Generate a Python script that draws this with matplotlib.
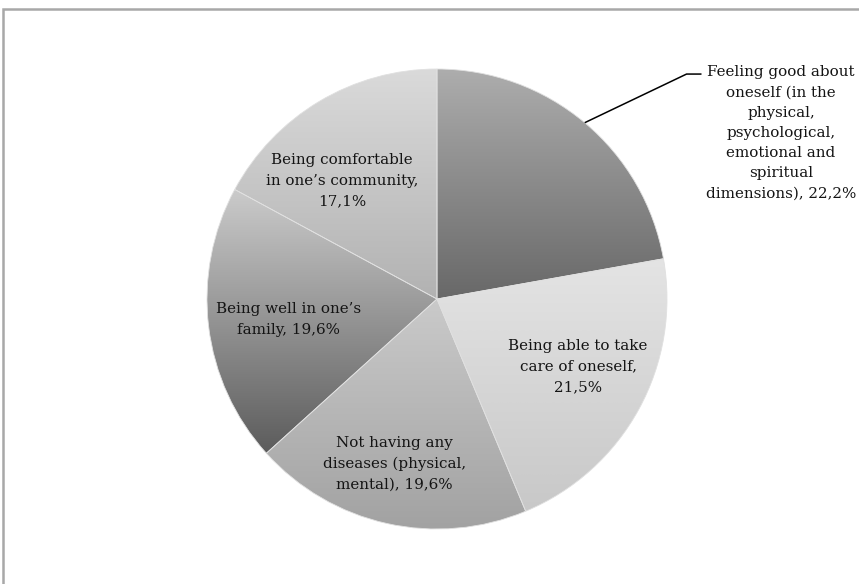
import numpy as np
import matplotlib
matplotlib.use('Agg')
from matplotlib import pyplot as plt
from matplotlib.patches import Rectangle

# data
labels = ['Feeling good about\noneself (in the\nphysical,\npsychological,\nemotional and\nspiritual\ndimensions), 22,2%',
          'Being able to take\ncare of oneself,\n21,5%',
          'Not having any\ndiseases (physical,\nmental), 19,6%',
          'Being well in one\u2019s\nfamily, 19,6%',
          'Being comfortable\nin one\u2019s community,\n17,1%']
values = [22.2, 21.5, 19.6, 19.6, 17.1]

# gradient top/bottom grey per slice
top_cols = ['#adadad', '#e4e4e4', '#cacaca', '#cbcbcb', '#dadada']
bot_cols = ['#686868', '#c8c8c8', '#a2a2a2', '#5c5c5c', '#b2b2b2']
label_r = [None, 0.68, 0.74, 0.65, 0.66]
label_dang = [0, 3, -2, 1, 8]

W, H = 859, 584
cx, cy, R = 437, 299, 230

fig = plt.figure(figsize=(W/100, H/100), dpi=100)
ax = fig.add_axes([0, 0, 1, 1])
wedges, _ = ax.pie(values, startangle=90, counterclock=False,
                   colors=['none']*5, wedgeprops=dict(edgecolor='#e0e0e0', linewidth=0.6))
ax.set_aspect('auto')
ax.set_xlim(-cx/R, (W-cx)/R)
ax.set_ylim(-(H-cy)/R, cy/R)
ax.axis('off')

def hex2rgb(h):
    return np.array([int(h[i:i+2], 16) for i in (1, 3, 5)]) / 255.0

for w, tc, bc in zip(wedges, top_cols, bot_cols):
    ext = w.get_path().get_extents(w.get_patch_transform())
    t = np.linspace(0, 1, 256)[:, None]
    grad = hex2rgb(tc)[None, :] * (1 - t) + hex2rgb(bc)[None, :] * t
    img = np.repeat(grad[:, None, :], 2, axis=1)
    im = ax.imshow(img, extent=[ext.x0, ext.x1, ext.y0, ext.y1], origin='upper',
                   aspect='auto', zorder=0.5, interpolation='bilinear')
    im.set_clip_path(w)
    w.set_zorder(1)

font = dict(family='DejaVu Serif', size=10.9, color='#141414', linespacing=1.57)

for i, w in enumerate(wedges):
    if label_r[i] is None:
        continue
    ang = np.deg2rad((w.theta1 + w.theta2) / 2 + label_dang[i])
    ax.text(label_r[i]*np.cos(ang), label_r[i]*np.sin(ang), labels[i],
            ha='center', va='center', zorder=3, **font)

# outside label with leader line
w0 = wedges[0]
a0 = np.deg2rad((w0.theta1 + w0.theta2) / 2)
tx, ty = 1.496, 0.722
elbow = (1.085, 0.978)
ax.text(tx, ty, labels[0], ha='center', va='center', zorder=3, **font)
ax.plot([np.cos(a0), elbow[0], elbow[0] + 0.065], [np.sin(a0), elbow[1], elbow[1]],
        color='black', lw=1.1, zorder=3, solid_capstyle='butt')

# frame
fig.patches.append(Rectangle((3.5/W, -0.05), 1.2, 1 - 9/H + 0.05, transform=fig.transFigure,
                             fill=False, edgecolor='#a8a8a8', lw=1.8))

fig.savefig('out.png', dpi=100, facecolor='white')
